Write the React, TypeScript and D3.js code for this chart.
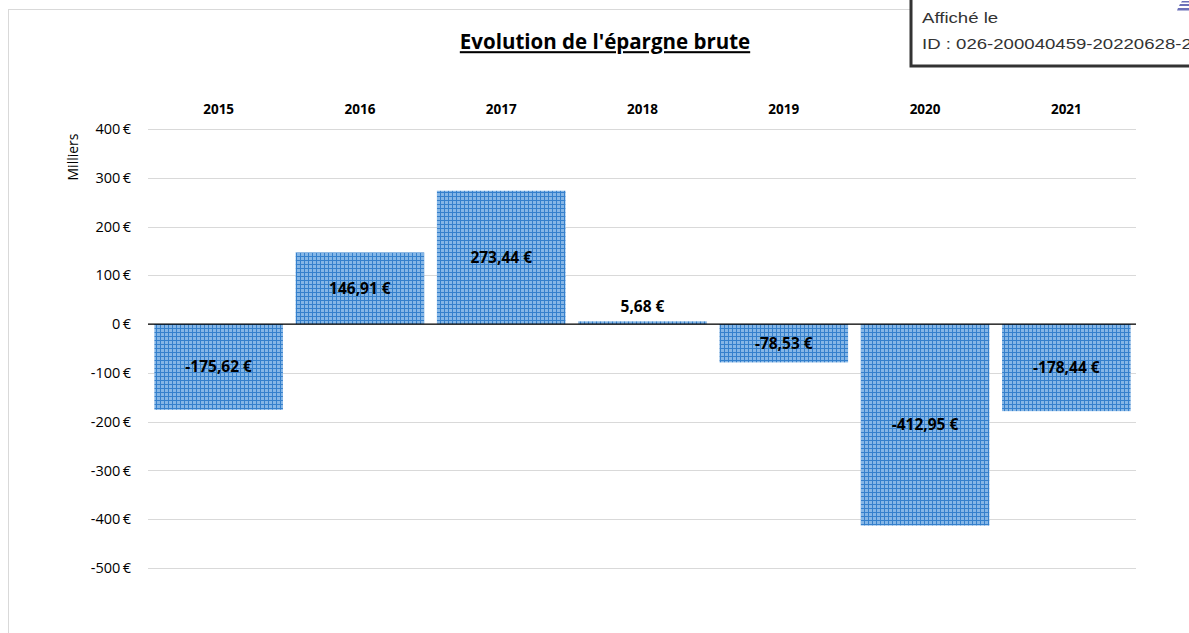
import React, { useRef, useEffect } from "react";
import * as d3 from "d3";

const years = ["2015", "2016", "2017", "2018", "2019", "2020", "2021"];
const epargne = [-175.62, 146.91, 273.44, 5.68, -78.53, -412.95, -178.44];
const yTicks = [400, 300, 200, 100, 0, -100, -200, -300, -400, -500];

const fmt = (v: number) => v.toFixed(2).replace(".", ",") + " €";

const App = () => {
  const ref = useRef<SVGSVGElement>(null);

  useEffect(() => {
    const width = 1189;
    const height = 633;
    const svg = d3.select(ref.current);
    svg.selectAll("*").remove();
    svg.attr("width", width).attr("height", height);

    const font = "'Open Sans', Lato, sans-serif";

    // hatch pattern for the bars
    const defs = svg.append("defs");
    const pat = defs
      .append("pattern")
      .attr("id", "grid")
      .attr("width", 4)
      .attr("height", 4)
      .attr("patternUnits", "userSpaceOnUse");
    pat.append("rect").attr("width", 4).attr("height", 4).attr("fill", "#85b6e6");
    pat.append("rect").attr("width", 4).attr("height", 1).attr("fill", "#3580cc");
    pat.append("rect").attr("width", 1).attr("height", 4).attr("fill", "#3580cc");

    svg.append("rect").attr("width", width).attr("height", height).attr("fill", "#fff");

    // chart frame
    svg
      .append("rect")
      .attr("x", 8.5)
      .attr("y", 9.5)
      .attr("width", 1300)
      .attr("height", 800)
      .attr("fill", "none")
      .attr("stroke", "#d9d9d9");

    const x = d3.scaleBand().domain(years).range([148, 1137]).paddingInner(0.09).paddingOuter(0.045);
    const y = d3.scaleLinear().domain([-500, 400]).range([568, 129]);

    // gridlines
    svg
      .append("g")
      .selectAll("line")
      .data(yTicks)
      .join("line")
      .attr("x1", 148)
      .attr("x2", 1136)
      .attr("y1", (d) => Math.round(y(d)) + 0.5)
      .attr("y2", (d) => Math.round(y(d)) + 0.5)
      .attr("stroke", "#d9d9d9");

    // tick labels
    svg
      .append("g")
      .selectAll("text")
      .data(yTicks)
      .join("text")
      .attr("x", 131)
      .attr("y", (d) => y(d))
      .attr("dy", "0.35em")
      .attr("text-anchor", "end")
      .style("font-family", font)
      .style("font-size", "14.5px")
      .attr("fill", "#000")
      .text((d) => `${d}\u2009€`);

    svg
      .append("text")
      .attr("transform", `translate(78,157) rotate(-90)`)
      .attr("text-anchor", "middle")
      .style("font-family", font)
      .style("font-size", "14px")
      .text("Milliers");

    // bars
    svg
      .append("g")
      .selectAll("rect")
      .data(years)
      .join("rect")
      .attr("x", (d) => x(d)!)
      .attr("width", x.bandwidth())
      .attr("y", (d, i) => y(Math.max(0, epargne[i])))
      .attr("height", (d, i) => Math.abs(y(epargne[i]) - y(0)))
      .attr("fill", "url(#grid)");

    // zero line
    svg
      .append("line")
      .attr("x1", 148)
      .attr("x2", 1136)
      .attr("y1", y(0))
      .attr("y2", y(0))
      .attr("stroke", "#000")
      .attr("stroke-width", 1.3);

    // category labels at top
    svg
      .append("g")
      .selectAll("text")
      .data(years)
      .join("text")
      .attr("x", (d) => x(d)! + x.bandwidth() / 2)
      .attr("y", 109)
      .attr("dy", "0.35em")
      .attr("text-anchor", "middle")
      .style("font-family", font)
      .style("font-size", "13.5px")
      .style("font-weight", "bold")
      .text((d) => d);

    // value labels
    svg
      .append("g")
      .selectAll("text")
      .data(years)
      .join("text")
      .attr("x", (d) => x(d)! + x.bandwidth() / 2)
      .attr("y", (d, i) => {
        const h = Math.abs(y(epargne[i]) - y(0));
        if (h < 20) return y(0) - 18;
        return (y(epargne[i]) + y(0)) / 2;
      })
      .attr("dy", "0.35em")
      .attr("text-anchor", "middle")
      .style("font-family", font)
      .style("font-size", "15.5px")
      .style("font-weight", "bold")
      .text((d, i) => fmt(epargne[i]));

    // title
    svg
      .append("text")
      .attr("x", 605)
      .attr("y", 42)
      .attr("dy", "0.35em")
      .attr("text-anchor", "middle")
      .style("font-family", font)
      .style("font-size", "20.5px")
      .style("font-weight", "bold")
      .style("text-decoration", "underline")
      .text("Evolution de l'épargne brute");

    // stamp box overlay
    svg
      .append("rect")
      .attr("x", 911)
      .attr("y", -10)
      .attr("width", 300)
      .attr("height", 76)
      .attr("fill", "#fff")
      .attr("stroke", "#333")
      .attr("stroke-width", 3);
    const stampFont = "'Liberation Sans', Arial, sans-serif";
    svg
      .append("text")
      .attr("transform", "translate(922,18) scale(1.2,1)")
      .attr("dy", "0.35em")
      .style("font-family", stampFont)
      .style("font-size", "15.5px")
      .attr("fill", "#333")
      .text("Affiché le");
    svg
      .append("text")
      .attr("transform", "translate(922,44) scale(1.2,1)")
      .attr("dy", "0.35em")
      .style("font-family", stampFont)
      .style("font-size", "15.5px")
      .attr("fill", "#333")
      .text("ID : 026-200040459-20220628-2");
    svg
      .append("path")
      .attr("d", "M1180,4 L1189,4 L1189,6 L1179,6 Z M1178,8 L1189,8 L1189,10.5 L1177,10.5 Z M1182,1 L1189,1 L1189,2.5 L1181,2.5 Z")
      .attr("fill", "#6b70b8");
  }, []);

  return (
    <svg
      ref={ref}
      style={{ position: "absolute", left: 0, top: 0, display: "block" }}
    ></svg>
  );
};

export default App;
